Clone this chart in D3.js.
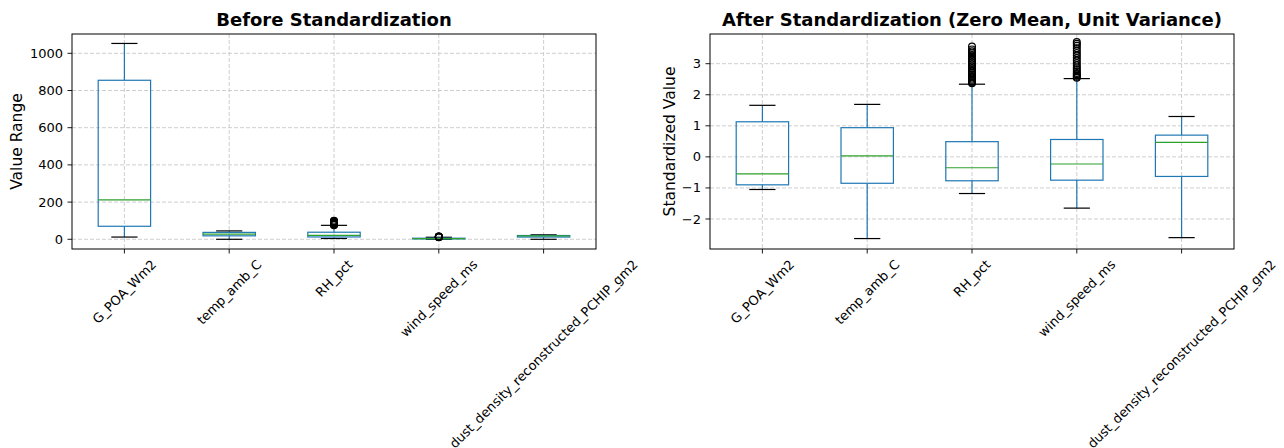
<!DOCTYPE html>
<html>
<head>
<meta charset="utf-8">
<script src="https://cdn.jsdelivr.net/npm/d3@7"></script>
<style>
  body { margin: 0; background: #fff; }
  svg { font-family: "DejaVu Sans", sans-serif; }
</style>
</head>
<body>
<svg width="1284" height="448"></svg>
<script>
var columns = ['G_POA_Wm2', 'temp_amb_C', 'RH_pct', 'wind_speed_ms', 'dust_density_reconstructed_PCHIP_gm2'];

// raw values: [low whisker, q1, median, q3, high whisker]
var rawStats = [
    [12, 70, 212, 855, 1053],
    [0, 18.6, 27.7, 37.2, 45],
    [4.4, 12.6, 21, 38, 75],
    [0, 2.3, 3.7, 5.8, 10.9],
    [0, 12.1, 18.9, 20.3, 24]
];
var rawOutliers = [
    [],
    [],
    [76, 78, 80, 82, 84, 86, 88, 90, 92, 94, 96, 98, 100],
    [11.5, 12, 12.5, 13, 13.5, 14, 14.5, 15],
    []
];

// standardized values
var stdStats = [
    [-1.05, -0.90, -0.55, 1.13, 1.66],
    [-2.63, -0.85, 0.03, 0.94, 1.69],
    [-1.18, -0.77, -0.35, 0.49, 2.34],
    [-1.65, -0.75, -0.23, 0.56, 2.52],
    [-2.60, -0.63, 0.47, 0.70, 1.30]
];
var stdOutliers = [
    [],
    [],
    [2.37, 2.40, 2.44, 2.48, 2.52, 2.56, 2.60, 2.65, 2.70, 2.75, 2.80, 2.86, 2.92, 2.98, 3.04, 3.10, 3.16, 3.22, 3.28, 3.34, 3.40, 3.46, 3.55],
    [2.55, 2.58, 2.62, 2.66, 2.70, 2.76, 2.82, 2.88, 2.95, 3.02, 3.10, 3.18, 3.26, 3.34, 3.42, 3.50, 3.58, 3.64, 3.70],
    []
];

var rawTicks = [0, 200, 400, 600, 800, 1000];
var stdTicks = [-2, -1, 0, 1, 2, 3];

var plotTop = 34;
var plotBottom = 249;
var tickFont = 13;

var svg = d3.select('svg');

drawPanel({
    left: 72, right: 596,
    domain: [-52.2, 1103.8],
    ticks: rawTicks,
    tickFormat: d => String(d),
    stats: rawStats,
    outliers: rawOutliers,
    title: 'Before Standardization',
    ylabel: 'Value Range',
    ylabelX: 17
});

drawPanel({
    left: 710, right: 1234,
    domain: [-2.966, 3.956],
    ticks: stdTicks,
    tickFormat: d => d < 0 ? '\u2212' + Math.abs(d) : String(d),
    stats: stdStats,
    outliers: stdOutliers,
    title: 'After Standardization (Zero Mean, Unit Variance)',
    ylabel: 'Standardized Value',
    ylabelX: 670
});

function drawPanel(p) {
    var g = svg.append('g');

    var xScale = d3.scaleBand()
                    .domain(columns)
                    .range([p.left, p.right])
                    .paddingInner(0)
                    .paddingOuter(0);

    var yScale = d3.scaleLinear()
                    .domain(p.domain)
                    .range([plotBottom, plotTop]);

    var cx = d => xScale(d) + xScale.bandwidth() / 2;
    var boxW = xScale.bandwidth() * 0.5;

    // grid
    g.selectAll('.hgrid')
        .data(p.ticks)
        .enter()
        .append('line')
            .attr('x1', p.left).attr('x2', p.right)
            .attr('y1', d => yScale(d)).attr('y2', d => yScale(d))
            .attr('stroke', '#c8c8c8')
            .attr('stroke-width', 0.9)
            .attr('stroke-dasharray', '4,2');

    g.selectAll('.vgrid')
        .data(columns)
        .enter()
        .append('line')
            .attr('x1', cx).attr('x2', cx)
            .attr('y1', plotTop).attr('y2', plotBottom)
            .attr('stroke', '#c8c8c8')
            .attr('stroke-width', 0.9)
            .attr('stroke-dasharray', '4,2');

    var boxes = g.selectAll('.box')
        .data(columns.map((c, i) => ({ name: c, s: p.stats[i], out: p.outliers[i] })))
        .enter()
        .append('g');

    // whiskers
    boxes.append('line')
        .attr('x1', d => cx(d.name)).attr('x2', d => cx(d.name))
        .attr('y1', d => yScale(d.s[0])).attr('y2', d => yScale(d.s[1]))
        .attr('stroke', '#1f77b4').attr('stroke-width', 1.2);
    boxes.append('line')
        .attr('x1', d => cx(d.name)).attr('x2', d => cx(d.name))
        .attr('y1', d => yScale(d.s[3])).attr('y2', d => yScale(d.s[4]))
        .attr('stroke', '#1f77b4').attr('stroke-width', 1.2);

    // caps
    [0, 4].forEach(function(k) {
        boxes.append('line')
            .attr('x1', d => cx(d.name) - boxW / 4).attr('x2', d => cx(d.name) + boxW / 4)
            .attr('y1', d => yScale(d.s[k])).attr('y2', d => yScale(d.s[k]))
            .attr('stroke', '#000').attr('stroke-width', 1.2);
    });

    // box
    boxes.append('rect')
        .attr('x', d => cx(d.name) - boxW / 2)
        .attr('width', boxW)
        .attr('y', d => yScale(d.s[3]))
        .attr('height', d => Math.max(0.5, yScale(d.s[1]) - yScale(d.s[3])))
        .attr('fill', 'none')
        .attr('stroke', '#1f77b4').attr('stroke-width', 1.2);

    // median
    boxes.append('line')
        .attr('x1', d => cx(d.name) - boxW / 2).attr('x2', d => cx(d.name) + boxW / 2)
        .attr('y1', d => yScale(d.s[2])).attr('y2', d => yScale(d.s[2]))
        .attr('stroke', '#2ca02c').attr('stroke-width', 1.2);

    // fliers
    boxes.each(function(d) {
        d3.select(this).selectAll('circle')
            .data(d.out)
            .enter()
            .append('circle')
                .attr('cx', cx(d.name))
                .attr('cy', v => yScale(v))
                .attr('r', 3.4)
                .attr('fill', 'none')
                .attr('stroke', '#000')
                .attr('stroke-width', 1.2);
    });

    // frame
    g.append('rect')
        .attr('x', p.left).attr('y', plotTop)
        .attr('width', p.right - p.left).attr('height', plotBottom - plotTop)
        .attr('fill', 'none')
        .attr('stroke', '#000')
        .attr('stroke-width', 1);

    // y ticks
    g.selectAll('.ytick')
        .data(p.ticks)
        .enter()
        .append('line')
            .attr('x1', p.left - 4.5).attr('x2', p.left)
            .attr('y1', d => yScale(d)).attr('y2', d => yScale(d))
            .attr('stroke', '#000').attr('stroke-width', 0.9);

    g.selectAll('.ylab')
        .data(p.ticks)
        .enter()
        .append('text')
            .attr('x', p.left - 9)
            .attr('y', d => yScale(d))
            .attr('dy', '0.35em')
            .attr('text-anchor', 'end')
            .attr('font-size', tickFont + 'px')
            .attr('fill', '#000')
            .text(p.tickFormat);

    // x ticks
    g.selectAll('.xtick')
        .data(columns)
        .enter()
        .append('line')
            .attr('x1', cx).attr('x2', cx)
            .attr('y1', plotBottom).attr('y2', plotBottom + 4.5)
            .attr('stroke', '#000').attr('stroke-width', 0.9);

    g.selectAll('.xlab')
        .data(columns)
        .enter()
        .append('text')
            .attr('text-anchor', 'middle')
            .attr('dy', '0.35em')
            .attr('font-size', tickFont + 'px')
            .attr('fill', '#000')
            .text(d => d)
            .each(function(d) {
                var w = this.getComputedTextLength();
                var h = tickFont * 1.1;
                var H = (w + h) * Math.SQRT1_2;
                d3.select(this)
                    .attr('transform', 'translate(' + cx(d) + ',' + (plotBottom + 8 + H / 2) + ') rotate(-45)');
            });

    // title
    g.append('text')
        .attr('x', (p.left + p.right) / 2)
        .attr('y', plotTop - 8)
        .attr('text-anchor', 'middle')
        .attr('font-size', '18px')
        .attr('font-weight', 'bold')
        .text(p.title);

    // y label
    g.append('text')
        .attr('transform', 'rotate(-90)')
        .attr('x', -(plotTop + plotBottom) / 2)
        .attr('y', p.ylabelX)
        .attr('dy', '0.35em')
        .attr('text-anchor', 'middle')
        .attr('font-size', '15.5px')
        .text(p.ylabel);
}
</script>
</body>
</html>
